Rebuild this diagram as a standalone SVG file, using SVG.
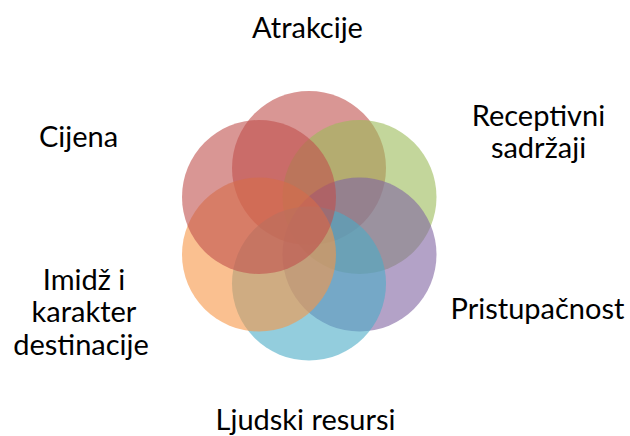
<svg xmlns="http://www.w3.org/2000/svg" width="630" height="436" viewBox="0 0 630 436">
<style>
.c{fill-opacity:0.6;stroke:none}
text{font-family:Lato,"Liberation Sans",sans-serif;font-size:29px;fill:#000;text-anchor:middle}
</style>
<rect width="630" height="436" fill="#fff"/>
<g id="n-atrakcije"><circle class="c" cx="309" cy="168" r="77" fill="#C0504D"/></g>
<g id="n-receptivni"><circle class="c" cx="359.5" cy="197" r="77" fill="#9BBB59"/></g>
<g id="n-pristupacnost"><circle class="c" cx="359.5" cy="254.5" r="77" fill="#8064A2"/></g>
<g id="n-ljudski"><circle class="c" cx="309" cy="283.5" r="77" fill="#4BACC6"/></g>
<g id="n-imidz"><circle class="c" cx="259" cy="254.5" r="77" fill="#F79646"/></g>
<g id="n-cijena"><circle class="c" cx="259" cy="197" r="77" fill="#C0504D"/></g>
<g id="labels">
<text x="307.5" y="38">Atrakcije</text>
<text x="538.5" y="126">Receptivni</text>
<text x="538.5" y="158">sadržaji</text>
<text x="537.5" y="319">Pristupačnost</text>
<text x="305.5" y="430">Ljudski resursi</text>
<text x="84" y="290">Imidž i</text>
<text x="84" y="322">karakter</text>
<text x="81" y="355">destinacije</text>
<text x="78.5" y="147">Cijena</text>
</g>
</svg>
